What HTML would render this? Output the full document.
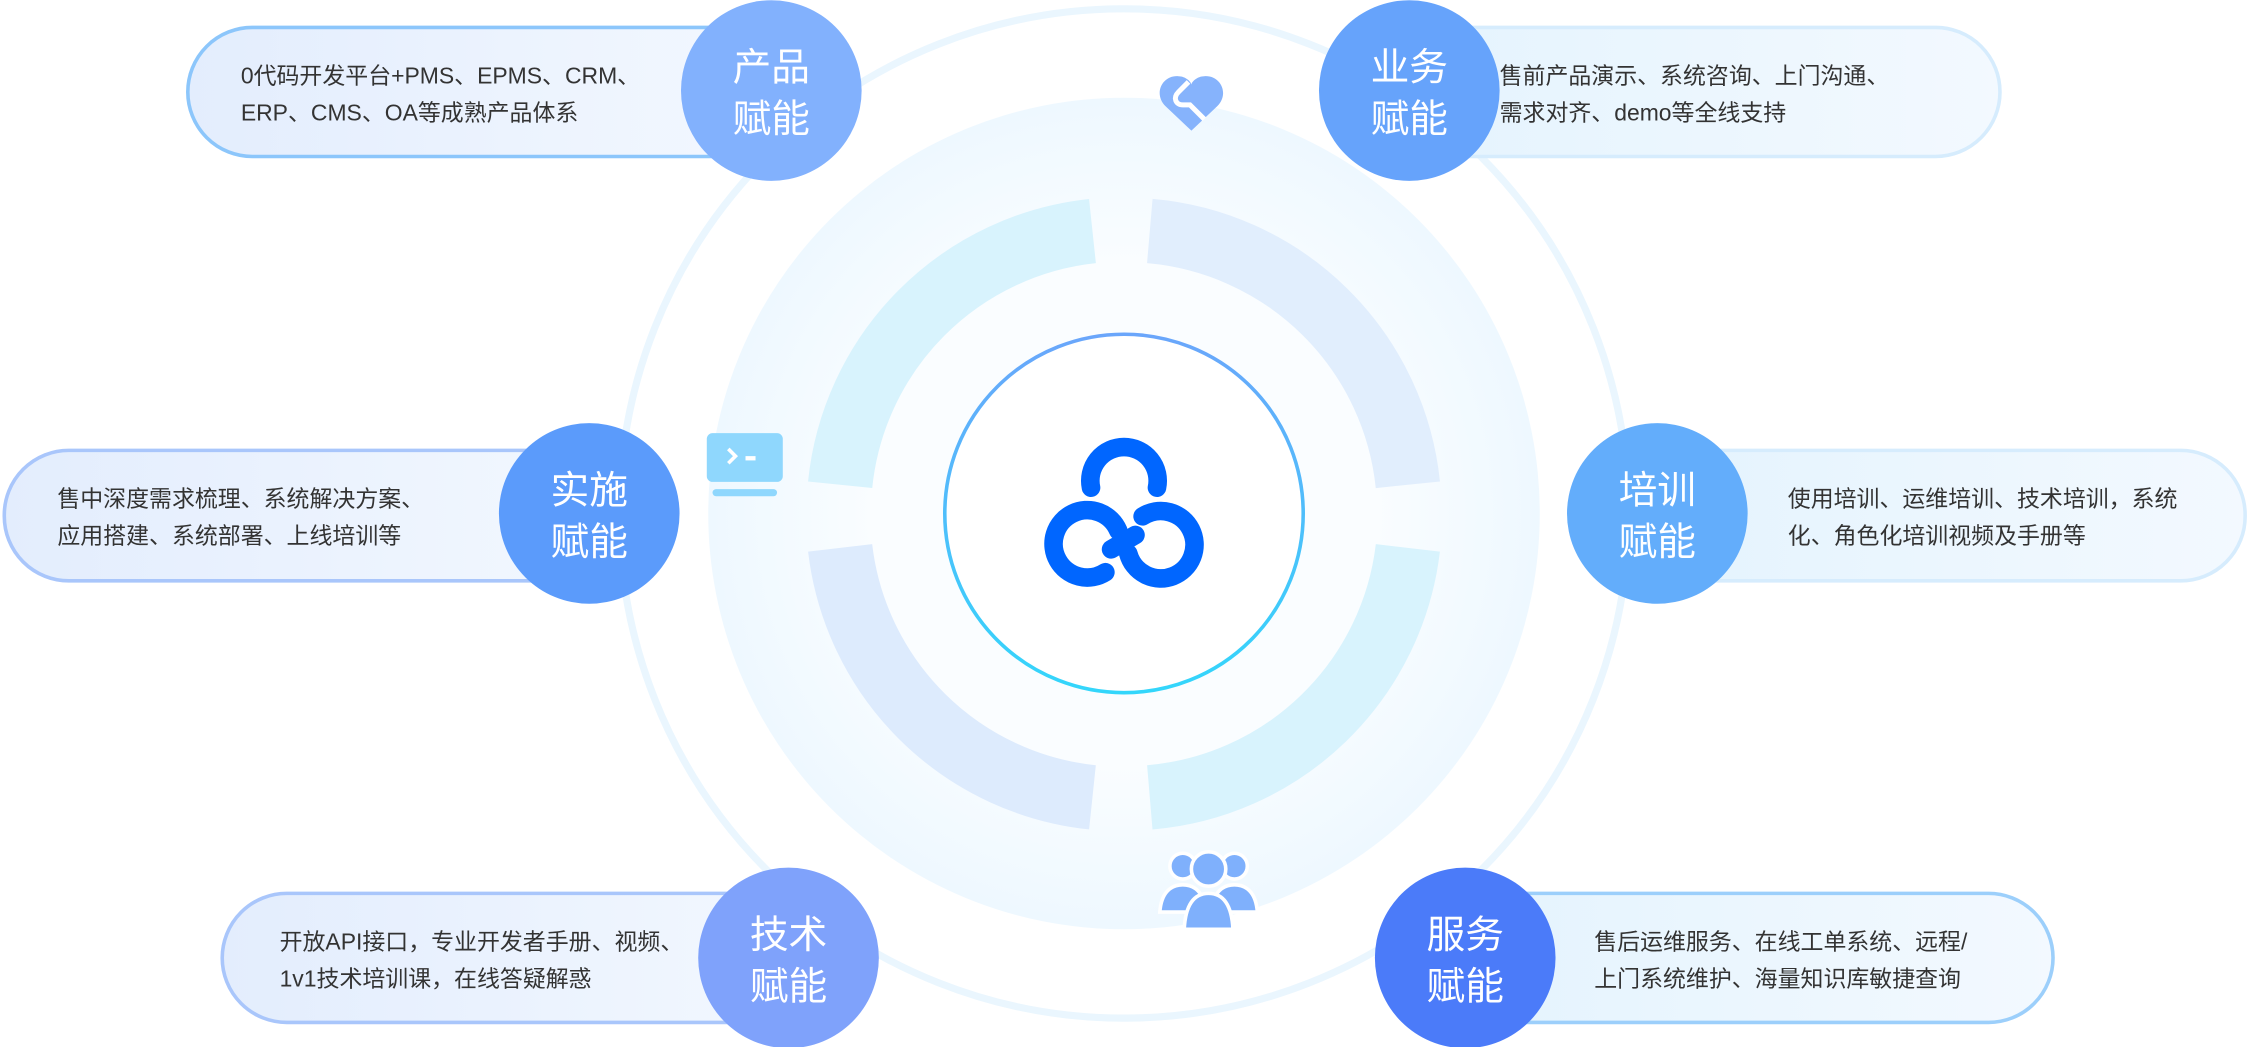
<!DOCTYPE html>
<html><head><meta charset="utf-8"><style>
html,body{margin:0;padding:0;background:#fff;}
svg{display:block}
text{font-family:"Liberation Sans","Noto Sans CJK SC",sans-serif;}
.t{font-size:16px;fill:#333;}
.c{font-size:27px;fill:#fff;text-anchor:middle;}
</style></head><body>
<svg width="2248" height="1047" viewBox="0 0 1568 730" xmlns="http://www.w3.org/2000/svg">
<defs>
<linearGradient id="ring" x1="0" y1="0" x2="0" y2="1"><stop offset="0" stop-color="#6aa6fb"/><stop offset="1" stop-color="#33d6fb"/></linearGradient>
<radialGradient id="disc" cx="0.5" cy="0.5" r="0.5"><stop offset="0.6" stop-color="#fafdff"/><stop offset="1" stop-color="#eef8ff"/></radialGradient>
<linearGradient id="pl" x1="0" y1="0" x2="1" y2="0"><stop offset="0" stop-color="#e3edfd"/><stop offset="1" stop-color="#f3f8ff"/></linearGradient>
<linearGradient id="pr" x1="0" y1="0" x2="1" y2="0"><stop offset="0" stop-color="#e3f3fd"/><stop offset="1" stop-color="#f3f9ff"/></linearGradient>
</defs>
<circle cx="784" cy="358" r="352" fill="none" stroke="#eaf6fe" stroke-width="5"/>
<circle cx="784" cy="358" r="290" fill="url(#disc)"/>
<g fill="none" stroke-width="45">
<path d="M 586 338 A 198 198 0 0 1 762 161" stroke="#d8f3fd"/>
<path d="M 802 161 A 198 198 0 0 1 982 338" stroke="#e1eefd"/>
<path d="M 982 382 A 198 198 0 0 1 802 556" stroke="#d8f3fd"/>
<path d="M 762 556 A 198 198 0 0 1 586 382" stroke="#ddebfd"/>
</g>
<circle cx="784" cy="358" r="125" fill="#fff" stroke="url(#ring)" stroke-width="2.5"/>
<g fill="none" stroke="#0066ff" stroke-width="13" stroke-linecap="round">
<path d="M 761 340 A 23.5 23.5 0 1 1 807 340"/>
<path d="M 780 370 A 23.5 23.5 0 1 0 771 399"/>
<path d="M 797 360 A 23.5 23.5 0 1 1 787 386"/>
<path d="M 775 383 L 792 373"/>
</g>
<!-- heart icon -->
<g transform="translate(831,73)">
<path d="M0 18 L-18 1 C-27 -8 -20 -21 -9 -20 C-4 -20 0 -16 0 -14 C0 -16 4 -20 9 -20 C20 -21 27 -8 18 1 Z" fill="#86b3fc"/>
<path d="M-2 -16 L-9 -9 C-13 -5 -11 0 -6 0 L-1 0 L9 10" fill="none" stroke="#fff" stroke-width="3.5"/>
</g>
<!-- terminal icon -->
<rect x="493" y="302" width="53" height="34" rx="4" fill="#8fd7fd"/>
<rect x="497" y="341" width="45" height="5" rx="2.5" fill="#8fd7fd"/>
<path d="M508 313 L513 318 L508 323" fill="none" stroke="#fff" stroke-width="2.5"/>
<rect x="520" y="318" width="7" height="3" fill="#fff"/>
<!-- people icon -->
<g fill="#7fb0fc" stroke="#fff" stroke-width="2.5">
<circle cx="825" cy="604" r="9"/><circle cx="861" cy="604" r="9"/>
<path d="M809 636 C810 622 817 617 825 617 C833 617 840 622 841 636 Z"/>
<path d="M845 636 C846 622 853 617 861 617 C869 617 876 622 877 636 Z"/>
<circle cx="843" cy="606" r="12"/>
<path d="M826 648 C827 629 834 623 843 623 C852 623 859 629 860 648 Z"/>
</g>
<!-- pills -->
<rect x="131" y="19" width="410" height="90" rx="45" fill="url(#pl)" stroke="#8cc6fb" stroke-width="2.5"/>
<rect x="940" y="19" width="455" height="90" rx="45" fill="url(#pr)" stroke="#d6ecfd" stroke-width="2.5"/>
<rect x="3" y="314" width="440" height="91" rx="45" fill="url(#pl)" stroke="#a9c6fb" stroke-width="2.5"/>
<rect x="1120" y="314" width="446" height="91" rx="45" fill="url(#pr)" stroke="#d6ecfd" stroke-width="2.5"/>
<rect x="155" y="623" width="420" height="90" rx="45" fill="url(#pl)" stroke="#a9c6fb" stroke-width="2.5"/>
<rect x="990" y="623" width="442" height="90" rx="45" fill="url(#pr)" stroke="#9ccffb" stroke-width="2.5"/>
<text class="t" x="168" y="58">0代码开发平台+PMS、EPMS、CRM、</text>
<text class="t" x="168" y="84">ERP、CMS、OA等成熟产品体系</text>
<text class="t" x="1046" y="58">售前产品演示、系统咨询、上门沟通、</text>
<text class="t" x="1046" y="84">需求对齐、demo等全线支持</text>
<text class="t" x="40" y="353">售中深度需求梳理、系统解决方案、</text>
<text class="t" x="40" y="379">应用搭建、系统部署、上线培训等</text>
<text class="t" x="1247" y="353">使用培训、运维培训、技术培训，系统</text>
<text class="t" x="1247" y="379">化、角色化培训视频及手册等</text>
<text class="t" x="195" y="662">开放API接口，专业开发者手册、视频、</text>
<text class="t" x="195" y="688">1v1技术培训课，在线答疑解惑</text>
<text class="t" x="1112" y="662">售后运维服务、在线工单系统、远程/</text>
<text class="t" x="1112" y="688">上门系统维护、海量知识库敏捷查询</text>
<!-- circles -->
<circle cx="538" cy="63" r="63" fill="#82b1fd"/>
<text class="c" x="538" y="56">产品</text><text class="c" x="538" y="92">赋能</text>
<circle cx="983" cy="63" r="63" fill="#66a3fb"/>
<text class="c" x="983" y="56">业务</text><text class="c" x="983" y="92">赋能</text>
<circle cx="411" cy="358" r="63" fill="#5b9bfb"/>
<text class="c" x="411" y="351">实施</text><text class="c" x="411" y="387">赋能</text>
<circle cx="1156" cy="358" r="63" fill="#63adfb"/>
<text class="c" x="1156" y="351">培训</text><text class="c" x="1156" y="387">赋能</text>
<circle cx="550" cy="668" r="63" fill="#7fa2fb"/>
<text class="c" x="550" y="661">技术</text><text class="c" x="550" y="697">赋能</text>
<circle cx="1022" cy="668" r="63" fill="#4b7bf9"/>
<text class="c" x="1022" y="661">服务</text><text class="c" x="1022" y="697">赋能</text>
</svg>
</body></html>
